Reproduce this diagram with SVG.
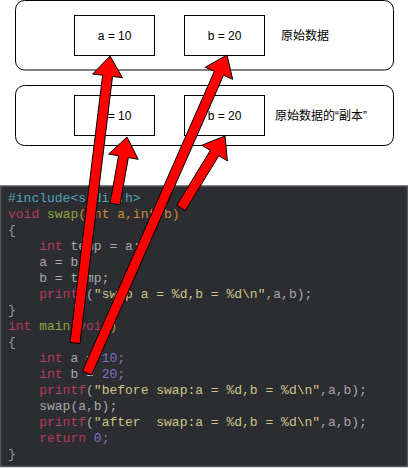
<svg xmlns="http://www.w3.org/2000/svg" width="408" height="468" viewBox="0 0 408 468">
<style>
.outer{fill:#ffffff;stroke:#000;stroke-width:1}
.box{fill:#ffffff;stroke:#000;stroke-width:1}
.lbl{font-family:"Liberation Sans",Arial,sans-serif;font-size:12px;fill:#000}
.cjk{font-family:"Liberation Sans","Noto Sans CJK SC",sans-serif;font-size:12px;fill:#000}
.code{font-family:"Liberation Mono","DejaVu Sans Mono",monospace;font-size:13px;white-space:pre;fill:#a8a8ae}
.k{fill:#b83a5c}.f{fill:#8fa63c}.p{fill:#c98a3e}.s{fill:#cfc58a}.n{fill:#7f70c4}.i{fill:#4fa3b5}.g{fill:#9a9aa0}
.arrow{fill:#ff0000;stroke:#000;stroke-width:1;stroke-linejoin:miter}
</style>
<rect width="408" height="468" fill="#ffffff"/>
<g id="original">
<rect class="outer" x="15.5" y="0.5" width="378" height="69.5" rx="9"/>
<text class="cjk" x="281" y="40">原始数据</text>
</g>
<g id="orig-a">
<rect class="box" x="74.5" y="15.5" width="80" height="40"/>
<text class="lbl" x="114.5" y="40" text-anchor="middle">a = 10</text>
</g>
<g id="orig-b">
<rect class="box" x="184.5" y="15.5" width="80" height="40"/>
<text class="lbl" x="224.5" y="40" text-anchor="middle">b = 20</text>
</g>
<g id="copy">
<rect class="outer" x="15.5" y="85.5" width="378" height="60" rx="9"/>
<text class="cjk" x="275" y="120">原始数据的“副本”</text>
</g>
<g id="copy-a">
<rect class="box" x="74.5" y="95.5" width="80" height="40"/>
<text class="lbl" x="114.5" y="120" text-anchor="middle">a = 10</text>
</g>
<g id="copy-b">
<rect class="box" x="184.5" y="95.5" width="80" height="40"/>
<text class="lbl" x="224.5" y="120" text-anchor="middle">b = 20</text>
</g>
<g id="code">
<rect x="0.5" y="186" width="407" height="280.5" fill="#2b2d31" stroke="#55575b" stroke-width="1.5"/>
<text class="code" xml:space="preserve" x="8" y="202"><tspan class="i">#include&lt;stdio.h&gt;</tspan></text>
<text class="code" xml:space="preserve" x="8" y="218"><tspan class="k">void</tspan> <tspan class="f">swap</tspan><tspan class="p">(int a,int b)</tspan></text>
<text class="code" xml:space="preserve" x="8" y="234"><tspan class="g">{</tspan></text>
<text class="code" xml:space="preserve" x="8" y="250">    <tspan class="k">int</tspan> temp = a;</text>
<text class="code" xml:space="preserve" x="8" y="266">    a = b;</text>
<text class="code" xml:space="preserve" x="8" y="282">    b = temp;</text>
<text class="code" xml:space="preserve" x="8" y="298">    <tspan class="k">printf</tspan>(<tspan class="s">"swap a = %d,b = %d\n"</tspan>,a,b);</text>
<text class="code" xml:space="preserve" x="8" y="314"><tspan class="g">}</tspan></text>
<text class="code" xml:space="preserve" x="8" y="330"><tspan class="k">int</tspan> <tspan class="f">main</tspan><tspan class="p">(</tspan><tspan class="k">void</tspan><tspan class="p">)</tspan></text>
<text class="code" xml:space="preserve" x="8" y="346"><tspan class="g">{</tspan></text>
<text class="code" xml:space="preserve" x="8" y="362">    <tspan class="k">int</tspan> a = <tspan class="n">10;</tspan></text>
<text class="code" xml:space="preserve" x="8" y="378">    <tspan class="k">int</tspan> b = <tspan class="n">20;</tspan></text>
<text class="code" xml:space="preserve" x="8" y="394">    <tspan class="k">printf</tspan>(<tspan class="s">"before swap:a = %d,b = %d\n"</tspan>,a,b);</text>
<text class="code" xml:space="preserve" x="8" y="410">    swap(a,b);</text>
<text class="code" xml:space="preserve" x="8" y="426">    <tspan class="k">printf</tspan>(<tspan class="s">"after  swap:a = %d,b = %d\n"</tspan>,a,b);</text>
<text class="code" xml:space="preserve" x="8" y="442">    <tspan class="k">return</tspan> <tspan class="n">0;</tspan></text>
<text class="code" xml:space="preserve" x="8" y="458"><tspan class="g">}</tspan></text>
</g>
<g id="connectors">
<polygon class="arrow" points="79.96,343.61 112.54,76.46 122.47,77.67 110,56 92.69,74.03 102.62,75.24 70.04,342.39"/>
<polygon class="arrow" points="91.58,375.01 223.52,75.31 232.67,79.34 227,55 205.21,67.26 214.36,71.29 82.42,370.99"/>
<polygon class="arrow" points="119.92,204.88 128.39,157.57 138.23,159.33 127,137 108.71,154.05 118.55,155.81 110.08,203.12"/>
<polygon class="arrow" points="185.27,210.61 218.84,155.68 227.37,160.89 225,136 201.77,145.25 210.30,150.46 176.73,205.39"/>
</g>
</svg>
